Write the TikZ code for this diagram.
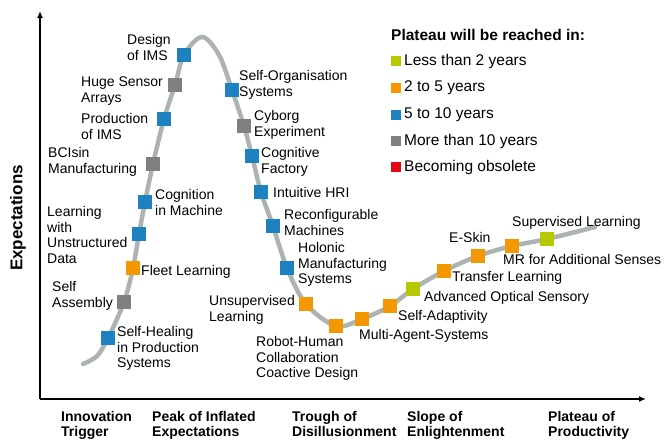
\documentclass[tikz,border=0pt]{standalone}
\usepackage{fontspec}
\setmainfont{Liberation Sans}
\usetikzlibrary{arrows.meta}
\definecolor{cblue}{RGB}{31,130,192}
\definecolor{corange}{RGB}{243,152,0}
\definecolor{cgrey}{RGB}{128,128,128}
\definecolor{cgreen}{RGB}{181,200,0}
\definecolor{cred}{RGB}{227,6,19}
\definecolor{ccurve}{RGB}{172,180,177}
\tikzset{
  mk/.style={rectangle, minimum size=14pt, inner sep=0pt, draw=none},
  lg/.style={rectangle, minimum size=9.5pt, inner sep=0pt, draw=none},
  lbl/.style={anchor=north west, inner sep=0pt, align=left, font=\fontsize{14}{15.7}\selectfont},
  phase/.style={anchor=north west, inner sep=0pt, align=left, font=\fontsize{14}{15.5}\selectfont\bfseries},
  lgt/.style={anchor=west, inner sep=0pt, font=\fontsize{15.5}{17}\selectfont},
  axisline/.style={line width=2pt, -{Latex[length=7pt,width=6pt]}},
  hype/.style={line width=4.5pt, color=ccurve, line cap=round}
}
\begin{document}
\begin{tikzpicture}[x=1pt,y=-1pt]
\useasboundingbox (0,0) rectangle (669,440);
% axes
\coordinate (O) at (40,399);
\coordinate (ytop) at (40,11);
\coordinate (xend) at (646,399);
\draw[axisline] (O) -- (ytop);
\draw[axisline] (O) -- (xend);
\node[rotate=90, inner sep=0pt, font=\fontsize{17}{17}\selectfont\bfseries] (ylab) at (18,218) {Expectations};
% hype curve
\draw[hype] plot[smooth, tension=0.55] coordinates {
 (83,364) (97,356) (108,338) (124,302) (133,268) (139,234) (145,202) (153,164)
 (164,119) (175,85) (184,55) (202,37) (219,55) (232,90) (244,126) (252,156)
 (261,192) (273,226) (287,268) (306,304) (336,326) (362,319) (390,306)
 (413,289) (444,271) (478,256) (512,246) (547,239) (595,227)};
% markers
\node[mk, fill=cblue]   (sh)  at (108,338) {};
\node[mk, fill=cgrey]   (sa)  at (124,302) {};
\node[mk, fill=corange] (fl)  at (133,268) {};
\node[mk, fill=cblue]   (lw)  at (139,234) {};
\node[mk, fill=cblue]   (cm)  at (145,202) {};
\node[mk, fill=cgrey]   (bci) at (153,164) {};
\node[mk, fill=cblue]   (pi)  at (164,119) {};
\node[mk, fill=cgrey]   (hs)  at (175,85) {};
\node[mk, fill=cblue]   (di)  at (184,55) {};
\node[mk, fill=cblue]   (so)  at (232,90) {};
\node[mk, fill=cgrey]   (ce)  at (244,126) {};
\node[mk, fill=cblue]   (cf)  at (252,156) {};
\node[mk, fill=cblue]   (ih)  at (261,192) {};
\node[mk, fill=cblue]   (rm)  at (273,226) {};
\node[mk, fill=cblue]   (hm)  at (287,268) {};
\node[mk, fill=corange] (ul)  at (306,304) {};
\node[mk, fill=corange] (rh)  at (336,326) {};
\node[mk, fill=corange] (ma)  at (362,319) {};
\node[mk, fill=corange] (sad) at (390,306) {};
\node[mk, fill=cgreen]  (ao)  at (413,289) {};
\node[mk, fill=corange] (tl)  at (444,271) {};
\node[mk, fill=corange] (es)  at (478,256) {};
\node[mk, fill=corange] (mr)  at (512,246) {};
\node[mk, fill=cgreen]  (sl)  at (547,239) {};
% labels
\node[lbl] (tdi) at (127,34) {Design\\of IMS};
\node[lbl] (ths) at (81,77) {Huge Sensor\\Arrays};
\node[lbl] (tpi) at (81,113) {Production\\of IMS};
\node[lbl] (tbci) at (48,147) {BCIsin\\Manufacturing};
\node[lbl] (tcm) at (155,189) {Cognition\\in Machine};
\node[lbl] (tlw) at (47,206) {Learning\\with\\Unstructured\\Data};
\node[lbl] (tfl) at (141,265) {Fleet Learning};
\node[lbl] (tsa) at (52,281) {Self\\Assembly};
\node[lbl] (tsh) at (117,326) {Self-Healing\\in Production\\Systems};
\node[lbl] (tso) at (239,70) {Self-Organisation\\Systems};
\node[lbl] (tce) at (254,110) {Cyborg\\Experiment};
\node[lbl] (tcf) at (261,147) {Cognitive\\Factory};
\node[lbl] (tih) at (273,187) {Intuitive HRI};
\node[lbl] (trm) at (284,209) {Reconfigurable\\Machines};
\node[lbl] (thm) at (298,242) {Holonic\\Manufacturing\\Systems};
\node[lbl] (tul) at (209,295) {Unsupervised\\Learning};
\node[lbl] (trh) at (256,336) {Robot-Human\\Collaboration\\Coactive Design};
\node[lbl] (tma) at (359,329) {Multi-Agent-Systems};
\node[lbl] (tsad) at (398,310) {Self-Adaptivity};
\node[lbl] (tao) at (424,291) {Advanced Optical Sensory};
\node[lbl] (ttl) at (452,271) {Transfer Learning};
\node[lbl] (tmr) at (503,254) {MR for Additional Senses};
\node[lbl] (tes) at (449,232) {E-Skin};
\node[lbl] (tsl) at (512,216) {Supervised Learning};
% phases
\node[phase] (p1) at (61,411) {Innovation\\Trigger};
\node[phase] (p2) at (152,411) {Peak of Inflated\\Expectations};
\node[phase] (p3) at (292,411) {Trough of\\Disillusionment};
\node[phase] (p4) at (407,411) {Slope of\\Enlightenment};
\node[phase] (p5) at (548,411) {Plateau of\\Productivity};
% legend
\node[anchor=west, inner sep=0pt, font=\fontsize{15.5}{17}\selectfont\bfseries] (lt) at (391,35) {Plateau will be reached in:};
\node[lg, fill=cgreen]  (l1) at (396,61) {};
\node[lg, fill=corange] (l2) at (396,88) {};
\node[lg, fill=cblue]   (l3) at (396,115) {};
\node[lg, fill=cgrey]   (l4) at (396,141) {};
\node[lg, fill=cred]    (l5) at (396,167) {};
\node[lgt] (lt1) at (404,61) {Less than 2 years};
\node[lgt] (lt2) at (404,88) {2 to 5 years};
\node[lgt] (lt3) at (404,115) {5 to 10 years};
\node[lgt] (lt4) at (404,141) {More than 10 years};
\node[lgt] (lt5) at (404,167) {Becoming obsolete};
\end{tikzpicture}
\end{document}
